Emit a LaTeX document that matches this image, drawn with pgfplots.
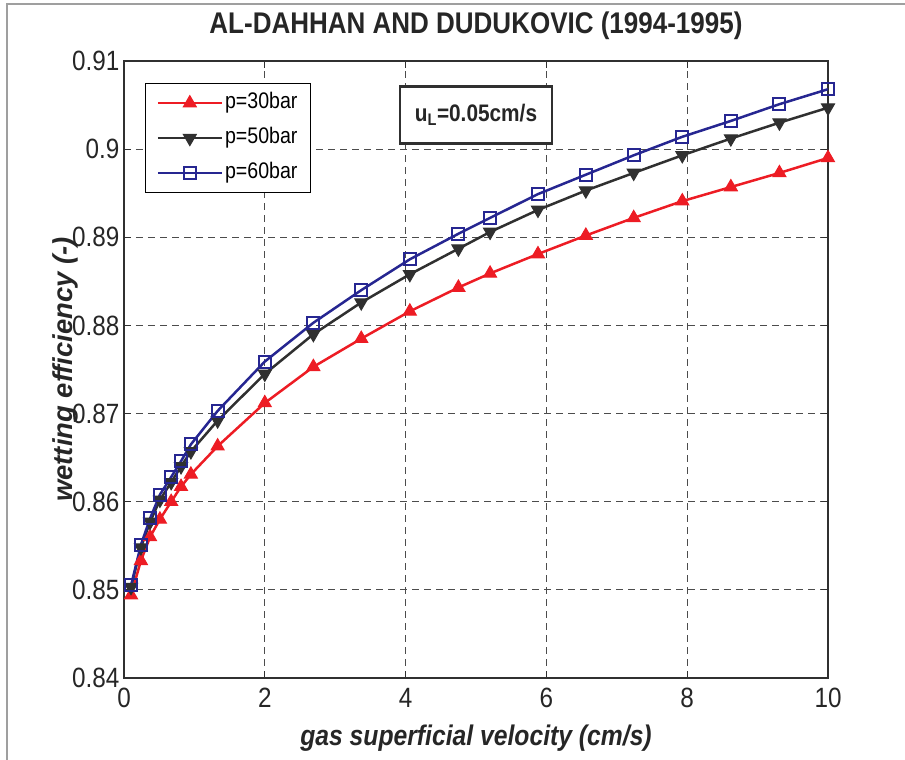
\documentclass[border=0pt]{standalone}
\usepackage{pgfplots}
\pgfplotsset{compat=1.18}
\usepackage{fontspec}
\setmainfont{Liberation Sans}[FakeStretch=0.87]
\newfontfamily\plainsans{Liberation Sans}
\definecolor{cred}{RGB}{237,28,36}
\definecolor{cblk}{RGB}{48,48,48}
\definecolor{cblu}{RGB}{38,38,145}
\definecolor{ctxt}{RGB}{38,38,38}
\begin{document}
\begin{tikzpicture}[x=1bp,y=1bp]
\useasboundingbox (-124,-82) rectangle (781,678);
\draw[gray!75, line width=2bp] (-117,-90) -- (-117,674) -- (790,674);
\begin{axis}[
  at={(0,0)}, anchor=south west,
  width=704bp, height=617bp, scale only axis,
  xmin=0, xmax=10, ymin=0.84, ymax=0.91,
  xtick={0,2,4,6,8,10},
  ytick={0.84,0.85,0.86,0.87,0.88,0.89,0.9,0.91},
  yticklabels={0.84,0.85,0.86,0.87,0.88,0.89,0.9,0.91},
  /pgf/number format/assume math mode=true,
  tick label style={font=\fontsize{28}{32}\selectfont, text=ctxt},
  xticklabel style={yshift=-7bp},
  yticklabel style={xshift=-1bp},
  tick align=inside, major tick length=7bp,
  axis line style={line width=1.3bp, draw=cblk},
  every tick/.style={line width=1bp, draw=cblk},
  grid=major,
  major grid style={dash pattern=on 7bp off 5bp, line width=0.9bp, draw=black!70},
  title={AL-DAHHAN AND DUDUKOVIC (1994-1995)},
  title style={at={(0.5,1)}, anchor=center, yshift=29bp, font=\bfseries\fontsize{30}{34}\selectfont, text=ctxt},
  xlabel={gas superficial velocity (cm/s)},
  xlabel style={at={(0.5,0)}, anchor=center, yshift=-60bp, font=\bfseries\itshape\fontsize{28.5}{32}\selectfont, text=ctxt},
  ylabel={wetting efficiency (-)},
  ylabel style={at={([xshift=-58.5bp]axis description cs:0,0.5)}, anchor=center, font=\plainsans\bfseries\itshape\fontsize{27.5}{32}\selectfont, text=ctxt},
  legend cell align=left,
  legend image code/.code={\draw[mark repeat=2,mark phase=2] plot coordinates {(0bp,0bp) (32bp,0bp) (64bp,0bp)};},
  legend style={at={(0.0298,0.9643)}, anchor=north west, draw=black, line width=1.2bp,
    font=\fontsize{22.6}{26}\selectfont, inner xsep=11bp, inner ysep=8bp, row sep=12bp,
    nodes={text height=15bp, text depth=4bp, inner sep=2bp},
    /tikz/every even column/.append style={column sep=6bp}},
]
\addplot[color=cred, line width=2.5bp, mark=triangle*, mark size=7.5bp, mark options={fill=cred, line width=1bp}] coordinates {
(0.1,0.8494) (0.24,0.8533) (0.37,0.8560) (0.51,0.8580) (0.67,0.8600) (0.81,0.8617) (0.95,0.8631)
(1.33,0.8663) (2.0,0.8712) (2.69,0.8753) (3.37,0.8785) (4.06,0.8816) (4.75,0.8843) (5.2,0.8859)
(5.88,0.8881) (6.56,0.8902) (7.24,0.8922) (7.93,0.8941) (8.62,0.8957) (9.31,0.8973) (10.0,0.8990)};
\addlegendentry{p=30bar}
\addplot[color=cblk, line width=2.5bp, mark=triangle*, mark size=7.5bp, mark options={rotate=180, fill=cblk, line width=1bp}] coordinates {
(0.1,0.8503) (0.24,0.8548) (0.37,0.8577) (0.51,0.8602) (0.67,0.8622) (0.81,0.8640) (0.95,0.8657)
(1.33,0.8692) (2.0,0.8745) (2.69,0.8790) (3.37,0.8826) (4.06,0.8858) (4.75,0.8887) (5.2,0.8906)
(5.88,0.8931) (6.56,0.8953) (7.24,0.8973) (7.93,0.8993) (8.62,0.9012) (9.31,0.9030) (10.0,0.9047)};
\addlegendentry{p=50bar}
\addplot[color=cblu, line width=2.5bp, mark=square, mark size=6bp, mark options={line width=2bp}] coordinates {
(0.1,0.8505) (0.24,0.8551) (0.37,0.8581) (0.51,0.8608) (0.67,0.8628) (0.81,0.8646) (0.95,0.8665)
(1.33,0.8703) (2.0,0.8759) (2.69,0.8803) (3.37,0.8840) (4.06,0.8875) (4.75,0.8904) (5.2,0.8922)
(5.88,0.8949) (6.56,0.8971) (7.24,0.8993) (7.93,0.9014) (8.62,0.9032) (9.31,0.9051) (10.0,0.9068)};
\addlegendentry{p=60bar}
\node[draw=cblk, line width=2.5bp, fill=white, minimum width=152bp, minimum height=57bp, inner sep=0pt,
  font=\bfseries\fontsize{24}{28}\selectfont, text=ctxt] at (axis cs:5.0,0.9039) {u\textsubscript{L}=0.05cm/s};
\end{axis}
\end{tikzpicture}
\end{document}
